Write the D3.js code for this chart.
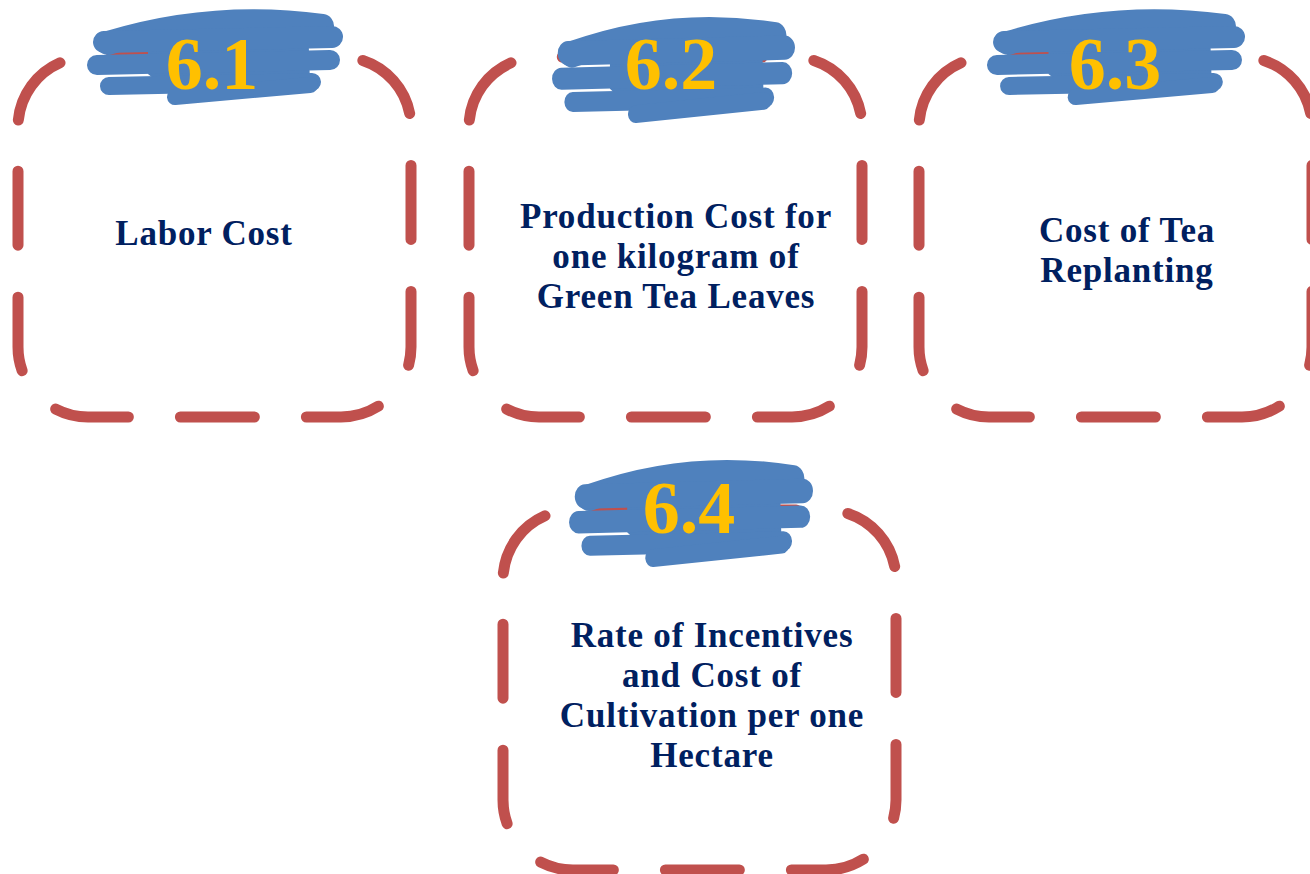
<!DOCTYPE html>
<html>
<head>
<meta charset="utf-8">
<script src="https://cdn.jsdelivr.net/npm/d3@7"></script>
<style>
  html, body { margin: 0; padding: 0; background: #fff; overflow: hidden; }
</style>
</head>
<body>
<div class="my_div"></div>
<script>
// Content of the four boxes
var labels = ["6.1", "6.2", "6.3", "6.4"];
var titles = [
    ["Labor Cost"],
    ["Production Cost for", "one kilogram of", "Green Tea Leaves"],
    ["Cost of Tea", "Replanting"],
    ["Rate of Incentives", "and Cost of", "Cultivation per one", "Hectare"]
];

// Layout: dashed frame [x, y], brush [x, y, w, h], label anchor, title anchor
var frames = [[18, 57], [469, 57], [919, 57], [503, 510]];
var brushes = [[88, 12, 255, 93], [553, 20, 242, 103], [988, 12, 257, 93], [570, 463, 243, 104]];
var labelAt = [[212, 89], [671, 89], [1115, 89], [689, 533]];
var titleAt = [[204, 245], [676, 228], [1127, 242], [712, 647]];

var width = 1310,
    height = 874,
    boxW = 393,
    boxH = 360,
    radius = 70,
    lineH = 40;

var red = "#C0504D",
    blue = "#4F81BD",
    gold = "#FFC000",
    navy = "#002060";

// Brush strokes, drawn in a 255 x 93 box and stretched into each brush rect
var strokes = [
    { d: "M20,31 Q125,-1 234,14", w: 24 },
    { d: "M16,30 L244,25", w: 22 },
    { d: "M9,53 L242,48", w: 20 },
    { d: "M21,74 L224,70", w: 18 },
    { d: "M87,85 L222,73", w: 16 }
];
// solid middle of the brush, so only the stroke ends show gaps
var brushCore = "M60,20 L220,10 L222,72 L92,88 L60,62 Z";

var svg = d3.select(".my_div")
    .append("svg")
    .attr("width", width)
    .attr("height", height);

function framePath(x, y, w, h, r) {
    var p = d3.path();
    p.moveTo(x, y + r);
    p.arcTo(x, y, x + r, y, r);
    p.lineTo(x + w - r, y);
    p.arcTo(x + w, y, x + w, y + r, r);
    p.lineTo(x + w, y + h - r);
    p.arcTo(x + w, y + h, x + w - r, y + h, r);
    p.lineTo(x + r, y + h);
    p.arcTo(x, y + h, x, y + h - r, r);
    p.closePath();
    return p.toString();
}

var box = svg.selectAll("g.box")
    .data(labels)
    .enter()
    .append("g")
    .attr("class", "box");

// Dashed rounded frame, 11 dashes round the whole outline
box.append("path")
    .attr("d", (d, i) => framePath(frames[i][0], frames[i][1], boxW, boxH, radius))
    .attr("fill", "none")
    .attr("stroke", red)
    .attr("stroke-width", 11)
    .attr("stroke-linecap", "round")
    .each(function () {
        var len = this.getTotalLength();
        var period = len / 11;
        d3.select(this)
            .attr("stroke-dasharray", (period * 0.587) + " " + (period * 0.413))
            .attr("stroke-dashoffset", -period * 0.056);
    });

// Blue brush mark behind the number
var brush = box.append("g")
    .attr("transform", (d, i) => {
        var b = brushes[i];
        return "translate(" + b[0] + "," + b[1] + ") scale(" + (b[2] / 255) + "," + (b[3] / 93) + ")";
    });

brush.append("path")
    .attr("class", "core")
    .attr("d", brushCore)
    .attr("fill", blue);

brush.selectAll("path.stroke")
    .data(strokes)
    .enter()
    .append("path")
    .attr("class", "stroke")
    .attr("d", s => s.d)
    .attr("fill", "none")
    .attr("stroke", blue)
    .attr("stroke-width", s => s.w)
    .attr("stroke-linecap", "round");

// Number label
box.append("text")
    .attr("x", (d, i) => labelAt[i][0])
    .attr("y", (d, i) => labelAt[i][1])
    .attr("text-anchor", "middle")
    .attr("font-family", "'Liberation Serif', 'Times New Roman', serif")
    .attr("font-weight", "bold")
    .attr("font-size", 74)
    .attr("fill", gold)
    .text(d => d);

// Title lines
box.each(function (d, i) {
    d3.select(this).selectAll("text.title")
        .data(titles[i])
        .enter()
        .append("text")
        .attr("class", "title")
        .attr("x", titleAt[i][0])
        .attr("y", (t, j) => titleAt[i][1] + j * lineH)
        .attr("text-anchor", "middle")
        .attr("font-family", "'Liberation Serif', 'Times New Roman', serif")
        .attr("font-weight", "bold")
        .attr("font-size", 35)
        .attr("letter-spacing", 0.8)
        .attr("fill", navy)
        .text(t => t);
});
</script>
</body>
</html>
